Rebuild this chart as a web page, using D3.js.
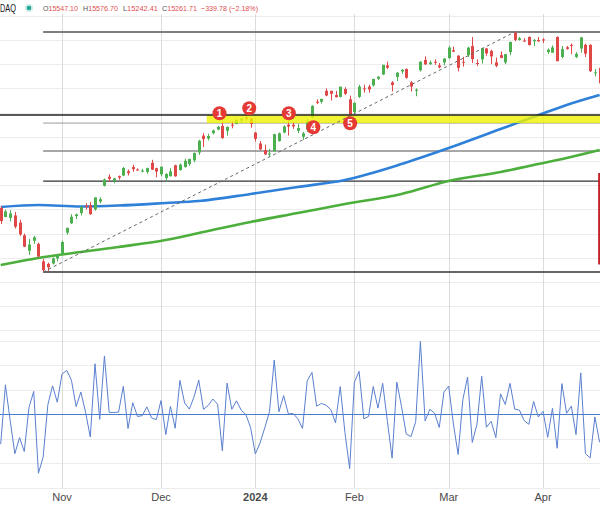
<!DOCTYPE html>
<html><head><meta charset="utf-8">
<script src="https://cdn.jsdelivr.net/npm/d3@7/dist/d3.min.js"></script>
<style>html,body{margin:0;padding:0;background:#fff}svg{display:block}</style>
</head><body>
<svg id="c" width="600" height="506"></svg>
<script>
// ---------- DATA (NASDAQ Composite, daily) ----------
const dates = ["2023-10-13","2023-10-16","2023-10-17","2023-10-18","2023-10-19","2023-10-20","2023-10-23","2023-10-24","2023-10-25","2023-10-26","2023-10-27","2023-10-30","2023-10-31","2023-11-01","2023-11-02","2023-11-03","2023-11-06","2023-11-07","2023-11-08","2023-11-09","2023-11-10","2023-11-13","2023-11-14","2023-11-15","2023-11-16","2023-11-17","2023-11-20","2023-11-21","2023-11-22","2023-11-24","2023-11-27","2023-11-28","2023-11-29","2023-11-30","2023-12-01","2023-12-04","2023-12-05","2023-12-06","2023-12-07","2023-12-08","2023-12-11","2023-12-12","2023-12-13","2023-12-14","2023-12-15","2023-12-18","2023-12-19","2023-12-20","2023-12-21","2023-12-22","2023-12-26","2023-12-27","2023-12-28","2023-12-29","2024-01-02","2024-01-03","2024-01-04","2024-01-05","2024-01-08","2024-01-09","2024-01-10","2024-01-11","2024-01-12","2024-01-16","2024-01-17","2024-01-18","2024-01-19","2024-01-22","2024-01-23","2024-01-24","2024-01-25","2024-01-26","2024-01-29","2024-01-30","2024-01-31","2024-02-01","2024-02-02","2024-02-05","2024-02-06","2024-02-07","2024-02-08","2024-02-09","2024-02-12","2024-02-13","2024-02-14","2024-02-15","2024-02-16","2024-02-20","2024-02-21","2024-02-22","2024-02-23","2024-02-26","2024-02-27","2024-02-28","2024-02-29","2024-03-01","2024-03-04","2024-03-05","2024-03-06","2024-03-07","2024-03-08","2024-03-11","2024-03-12","2024-03-13","2024-03-14","2024-03-15","2024-03-18","2024-03-19","2024-03-20","2024-03-21","2024-03-22","2024-03-25","2024-03-26","2024-03-27","2024-03-28","2024-04-01","2024-04-02","2024-04-03","2024-04-04","2024-04-05","2024-04-08","2024-04-09","2024-04-10","2024-04-11","2024-04-12","2024-04-15","2024-04-16","2024-04-17"];
const open  = [13623,13474,13460,13500,13382,13172,12917,13082,13030,12741,12700,12706,12790,12872,13215,13370,13490,13540,13660,13670,13600,13730,13990,14140,14070,14150,14160,14230,14300,14260,14230,14220,14370,14280,14180,14120,14150,14330,14250,14300,14350,14410,14540,14820,14770,14860,14920,14980,14900,15000,15010,15070,15120,15100,14870,14690,14580,14510,14560,14730,14870,15000,15000,14900,14800,14920,15120,15380,15380,15560,15560,15490,15460,15590,15420,15210,15460,15600,15630,15650,15760,15830,15980,15700,15790,15880,15920,15700,15560,15900,16070,16000,16040,15980,16030,16100,16230,16140,16040,16150,16300,16020,16080,16260,16220,16030,16150,16030,16200,16520,16400,16390,16450,16380,16400,16410,16200,16190,16450,16120,16280,16320,16120,16260,16320,16320,15860,15940];
const high  = [13653,13595,13587,13557,13429,13200,13110,13162,13050,12780,12720,12805,12856,13080,13300,13520,13530,13650,13700,13720,13800,13800,14110,14180,14120,14160,14300,14260,14340,14280,14270,14290,14420,14290,14310,14200,14280,14340,14360,14440,14440,14540,14750,14860,14850,14920,14980,15040,14970,15060,15090,15110,15150,15110,14880,14730,14670,14600,14850,14870,14990,15060,15040,15010,14880,15090,15320,15420,15430,15600,15560,15560,15630,15620,15480,15370,15660,15660,15660,15760,15800,15990,16040,15720,15870,15920,15930,15720,15600,16050,16130,16060,16080,16020,16100,16300,16290,16150,16120,16290,16450,16080,16270,16270,16240,16110,16210,16170,16370,16539,16450,16430,16460,16420,16450,16430,16260,16310,16460,16300,16300,16340,16200,16450,16340,16330,15920,15950];
const low   = [13357,13470,13400,13285,13162,12975,12848,13030,12805,12560,12580,12690,12740,12860,13180,13360,13440,13500,13600,13510,13580,13700,13980,14060,14030,14090,14150,14160,14220,14240,14210,14190,14250,14130,14150,14060,14140,14140,14240,14290,14320,14380,14500,14630,14740,14840,14910,14770,14820,14940,15010,15030,15080,14950,14720,14580,14500,14470,14560,14720,14860,14820,14930,14860,14750,14880,15100,15340,15350,15470,15400,15450,15450,15490,15160,15180,15440,15530,15530,15630,15740,15820,15920,15550,15720,15840,15760,15550,15470,15880,15990,15990,15990,15930,15980,16090,16200,15880,15960,16120,16020,15970,16010,16140,16000,15950,16100,16000,16150,16380,16390,16370,16310,16300,16370,16350,16170,16190,16050,16100,16240,16170,16100,16190,16120,15870,15800,15650];
const close = [13407,13567,13533,13314,13186,12984,13019,13139,12821,12595,12643,12789,12851,13061,13294,13478,13518,13640,13650,13521,13798,13768,14094,14104,14113,14125,14285,14200,14265,14251,14242,14282,14258,14226,14305,14185,14229,14147,14340,14404,14432,14533,14734,14762,14814,14905,14964,14778,14964,14993,15075,15100,15096,15011,14766,14592,14510,14524,14843,14858,14970,14970,14973,14944,14856,15056,15311,15361,15426,15482,15511,15455,15628,15510,15164,15361,15629,15598,15582,15756,15794,15990,15942,15656,15859,15906,15776,15630,15580,16041,15997,16028,16035,15948,16092,16275,16207,15940,16032,16273,16085,16019,16265,16178,16129,15973,16103,16167,16369,16402,16429,16384,16316,16399,16379,16397,16241,16277,16050,16249,16253,16307,16171,16443,16175,15885,15865,15683];
// daily % change (lower pane)
const pctChange = [-1.23,1.19,-0.25,-1.62,-0.96,-1.53,0.27,0.92,-2.42,-1.76,0.38,1.15,0.48,1.63,1.78,1.38,0.30,0.90,0.07,-0.94,2.05,-0.22,2.37,0.07,0.06,0.08,1.13,-0.59,0.46,-0.10,-0.07,0.29,-0.16,-0.23,0.55,-0.84,0.31,-0.58,1.37,0.45,0.20,0.70,1.38,0.19,0.35,0.61,0.40,-1.50,1.26,0.19,0.54,0.16,-0.03,-0.56,-1.63,-1.18,-0.56,0.09,2.20,0.09,0.75,0.00,0.02,-0.19,-0.59,1.35,1.70,0.32,0.43,0.36,0.18,-0.36,1.12,-0.76,-2.23,1.30,1.74,-0.20,-0.10,1.12,0.24,1.25,-0.30,-1.80,1.30,0.30,-0.82,-0.92,-0.32,2.96,-0.28,0.19,0.04,-0.55,0.90,1.14,-0.41,-1.65,0.58,1.51,-1.16,-0.41,1.54,-0.54,-0.30,-0.96,0.82,0.39,1.25,0.20,0.16,-0.27,-0.42,0.51,-0.12,0.11,-0.95,0.23,-1.40,1.24,0.03,0.32,-0.84,1.68,-1.62,-1.79,-0.12,-1.15];
// moving averages read at selected bars
const maBars    = [0,8,17,25,35,42,53,63,73,85,95,106,113,120,127];
const maBlue    = [13640,13673,13648,13664,13706,13739,13855,13970,14086,14350,14615,14929,15127,15326,15491];
const maGreen   = [12681,12797,12896,12979,13094,13210,13392,13540,13689,13855,14069,14218,14334,14450,14582];
// axis labels
const monthBars   = [13,34,54,75,95,115];
const monthLabels = ["Nov","Dec","2024","Feb","Mar","Apr"];
const priceTicks  = [11600,12000,12400,12800,13200,13600,14000,14400,14800,15200,15600,16000,16400,16800];
const pctTicks    = [-3,-2,-1,0,1,2,3];
// annotations
const levelPrices = [16532,14565,14069,12565];   // horizontal lines from Oct low to right
const levelColors = ["#555","#8a8a8a","#333","#333"];
const zoneTop = 15160, zoneBottom = 15027, zoneStartBar = 43.7;
const trendFrom = [9,12565], trendTo = [109,16532];
const markerBars   = [46.4,52.7,61.1,66.3,74.1];
const markerPrices = [15190,15272,15190,14958,15025];
const markerLabels = ["1","2","3","4","5"];
const redBar = 126.9, redTop = 14202, redBottom = 12690;
const headerName = "DAQ";
const headerKeys = ["O","H","L","C"];
const headerVals = ["15547.10","15576.70","15242.41","15261.71"];
const headerChange = "\u2212339.78 (\u22122.18%)";

// ---------- DRAW ----------
const svg = d3.select("#c");
const W = 600;
const FONT = "Liberation Sans, Arial, sans-serif";
const x = d3.scaleLinear().domain([0,127]).range([0.7,599.6]);
const y = d3.scaleLinear().domain([12400,16400]).range([282,40]);
const yp = d3.scaleLinear().domain([-3,3]).range([487.5,340.5]);
const UP = "#4caf50", DN = "#e04848";

svg.append("rect").attr("width",600).attr("height",506).attr("fill","#fff");

// grid
const g = svg.append("g");
g.selectAll(".hg").data(priceTicks).join("line")
  .attr("x1",0).attr("x2",W).attr("y1",d=>Math.round(y(d))+0.5).attr("y2",d=>Math.round(y(d))+0.5)
  .attr("stroke","#ececec");
g.selectAll(".pg").data(pctTicks.filter(d=>d!==0)).join("line")
  .attr("x1",0).attr("x2",W).attr("y1",d=>Math.round(yp(d))+0.5).attr("y2",d=>Math.round(yp(d))+0.5)
  .attr("stroke","#ececec");
g.selectAll(".vg").data(monthBars).join("line")
  .attr("x1",d=>Math.round(x(d))+0.5).attr("x2",d=>Math.round(x(d))+0.5)
  .attr("y1",14).attr("y2",488).attr("stroke","#dcdcdc");

// x-axis labels
svg.selectAll(".ml").data(monthLabels).join("text")
  .attr("x",(d,i)=>x(monthBars[i])).attr("y",501).attr("text-anchor","middle")
  .attr("font-family",FONT).attr("font-size",11)
  .attr("font-weight",d=>d==="2024"?"bold":"normal").attr("fill","#4a4a4a").text(d=>d);

// level lines
svg.selectAll(".lv").data(levelPrices).join("line")
  .attr("x1",x(9)).attr("x2",W).attr("y1",d=>y(d)).attr("y2",d=>y(d))
  .attr("stroke",(d,i)=>levelColors[i]).attr("stroke-width",1.3);
svg.append("line").attr("x1",x(9)).attr("x2",W).attr("y1",y(zoneBottom)).attr("y2",y(zoneBottom))
  .attr("stroke","#9a9a9a").attr("stroke-width",1);

// moving averages
const maLine = d3.line().x((d,i)=>x(maBars[i])).curve(d3.curveMonotoneX);
svg.append("path").attr("d",maLine.y(d=>y(d))(maGreen)).attr("fill","none").attr("stroke","#4caf3c").attr("stroke-width",2.6);
svg.append("path").attr("d",maLine.y(d=>y(d))(maBlue)).attr("fill","none").attr("stroke","#2f80d8").attr("stroke-width",2.6);

// candles
const idx = d3.range(dates.length);
const cg = svg.append("g");
cg.selectAll(".wk").data(idx).join("line")
  .attr("x1",i=>Math.round(x(i))+0.5).attr("x2",i=>Math.round(x(i))+0.5)
  .attr("y1",i=>y(high[i])).attr("y2",i=>y(low[i]))
  .attr("stroke",i=>close[i]>=open[i]?UP:DN).attr("stroke-width",1);
cg.selectAll(".bd").data(idx).join("rect")
  .attr("x",i=>Math.round(x(i))-1).attr("width",3)
  .attr("y",i=>y(Math.max(open[i],close[i])))
  .attr("height",i=>Math.max(1,Math.abs(y(open[i])-y(close[i]))))
  .attr("fill",i=>close[i]>=open[i]?UP:DN);

// yellow zone
svg.append("rect").attr("x",x(zoneStartBar)).attr("width",W-x(zoneStartBar))
  .attr("y",y(zoneTop)).attr("height",y(zoneBottom)-y(zoneTop))
  .attr("fill","#eef200").attr("opacity",0.8);
svg.append("line").attr("x1",0).attr("x2",W).attr("y1",y(zoneTop)).attr("y2",y(zoneTop))
  .attr("stroke","#222").attr("stroke-width",1.5);

// trendline
svg.append("line").attr("x1",x(trendFrom[0])).attr("y1",y(trendFrom[1]))
  .attr("x2",x(trendTo[0])).attr("y2",y(trendTo[1]))
  .attr("stroke","#666").attr("stroke-width",1).attr("stroke-dasharray","3,3");

// red box edge
svg.append("line").attr("x1",x(redBar)).attr("x2",x(redBar)).attr("y1",y(redTop)).attr("y2",y(redBottom))
  .attr("stroke","#c0262b").attr("stroke-width",2);

// markers
const mk = svg.selectAll(".mk").data(markerLabels).join("g")
  .attr("transform",(d,i)=>`translate(${x(markerBars[i])},${y(markerPrices[i])})`);
mk.append("circle").attr("r",7).attr("fill","#e53935");
mk.append("text").attr("text-anchor","middle").attr("dy","0.36em")
  .attr("font-family",FONT).attr("font-size",10).attr("font-weight","bold")
  .attr("fill","#fff").text(d=>d);

// lower pane
svg.append("line").attr("x1",0).attr("x2",W).attr("y1",Math.round(yp(0))+0.5).attr("y2",Math.round(yp(0))+0.5)
  .attr("stroke","#4a7cc9").attr("stroke-width",1.2);
svg.append("path").attr("d",d3.line().x((d,i)=>x(i)).y(d=>yp(d))(pctChange))
  .attr("fill","none").attr("stroke","#5a7fd0").attr("stroke-width",1);

// header
svg.append("rect").attr("x",0).attr("y",0).attr("width",W).attr("height",14).attr("fill","#fff");
svg.append("text").attr("x",0).attr("y",12)
  .attr("font-family",FONT).attr("font-size",11).attr("fill","#131722")
  .attr("textLength",16).attr("lengthAdjust","spacingAndGlyphs").text(headerName);
svg.append("circle").attr("cx",29).attr("cy",8).attr("r",4).attr("fill","#cfeee6");
svg.append("circle").attr("cx",29).attr("cy",8).attr("r",2.3).attr("fill","#26a69a");
const hx = [43,83,123,162];
headerKeys.forEach((k,i)=>{
  const t = svg.append("text").attr("x",hx[i]).attr("y",11).attr("font-family",FONT).attr("font-size",8)
    .attr("textLength",35).attr("lengthAdjust","spacingAndGlyphs");
  t.append("tspan").attr("fill","#555").text(k);
  t.append("tspan").attr("fill","#e05050").text(headerVals[i]);
});
svg.append("text").attr("x",201).attr("y",11).attr("font-family",FONT).attr("font-size",8)
  .attr("textLength",57).attr("lengthAdjust","spacingAndGlyphs").attr("fill","#e05050").text(headerChange);
</script>
</body></html>
